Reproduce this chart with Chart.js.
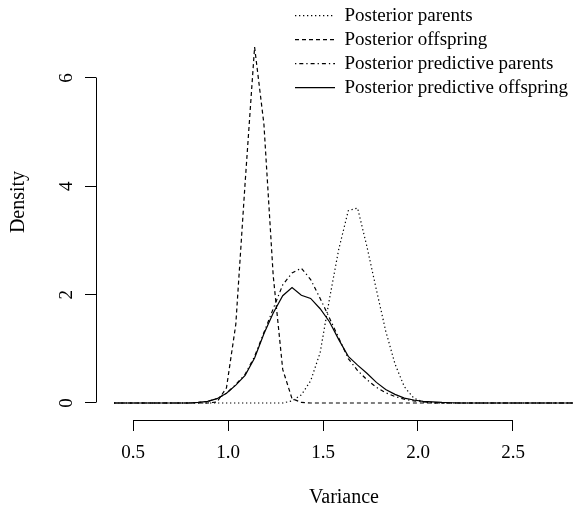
<!DOCTYPE html>
<html><head><meta charset="utf-8">
<script src="https://cdn.jsdelivr.net/npm/chart.js@4.4.1/dist/chart.umd.min.js"></script>
<style>html,body{margin:0;padding:0;background:#fff;overflow:hidden}canvas{display:block}</style>
</head><body>
<canvas id="c" width="582" height="507"></canvas>
<script>
// x grid (variance)
const variance = [0.400,0.449,0.499,0.548,0.597,0.647,0.696,0.745,0.794,0.844,
  0.893,0.942,0.992,1.041,1.090,1.140,1.189,1.238,1.288,1.337,
  1.386,1.435,1.485,1.534,1.583,1.633,1.682,1.731,1.781,1.830,
  1.879,1.928,1.978,2.027,2.076,2.126,2.175,2.224,2.273,2.323,
  2.372,2.421,2.471,2.520,2.569,2.619,2.668,2.717,2.767,2.816];

const posteriorParents = [0,0,0,0,0,0,0,0,0,0, 0,0,0,0,0,0,0,0,0,0.04,
  0.15,0.41,0.93,1.92,2.84,3.55,3.60,2.89,2.09,1.33,
  0.72,0.30,0.09,0.02,0,0,0,0,0,0, 0,0,0,0,0,0,0,0,0,0];

const posteriorOffspring = [0,0,0,0,0,0,0,0,0,0, 0,0.02,0.28,1.45,4.06,6.57,5.15,2.35,0.62,0.08,
  0.01,0,0,0,0,0,0,0,0,0, 0,0,0,0,0,0,0,0,0,0, 0,0,0,0,0,0,0,0,0,0];

const predictiveParents = [0,0,0,0,0,0,0,0,0,0.01, 0.03,0.08,0.18,0.34,0.53,0.86,1.30,1.74,2.18,2.40,
  2.49,2.28,1.93,1.57,1.20,0.82,0.60,0.43,0.29,0.19,
  0.12,0.07,0.04,0.02,0.01,0,0,0,0,0, 0,0,0,0,0,0,0,0,0,0];

const predictiveOffspring = [0,0,0,0,0,0,0,0,0,0.01, 0.03,0.08,0.18,0.33,0.51,0.83,1.28,1.66,1.98,2.13,
  1.99,1.93,1.74,1.50,1.17,0.86,0.70,0.55,0.38,0.25,
  0.16,0.09,0.055,0.03,0.02,0.01,0.005,0,0,0, 0,0,0,0,0,0,0,0,0,0];

const seriesNames = ["Posterior parents","Posterior offspring","Posterior predictive parents","Posterior predictive offspring"];
const xTicks = [0.5, 1.0, 1.5, 2.0, 2.5];
const yTicks = [0, 2, 4, 6];
const xTitle = "Variance";
const yTitle = "Density";

const seriesValues = [posteriorParents, posteriorOffspring, predictiveParents, predictiveOffspring];
const dashes = [[1.3,2.7],[4,3],[1.3,3,4,3],[]];

Chart.defaults.font.family = "'Liberation Serif', 'Times New Roman', serif";
Chart.defaults.color = '#000';

function align(px){ return Math.round(px - 0.5) + 0.5; }

const rAxes = {
  id: 'rAxes',
  afterLayout(chart) {
    const lg = chart.legend;
    lg.left = 290; lg.top = 1.2; lg.right = 582; lg.bottom = 140;
    lg.width = lg.right - lg.left; lg.height = lg.bottom - lg.top;
    chart.scales.y.top = -16;
    chart.scales.x.right = 592;
  },
  afterDraw(chart) {
    const {ctx, scales:{x, y}, chartArea} = chart;
    ctx.save();
    ctx.strokeStyle = '#000'; ctx.lineWidth = 1; ctx.setLineDash([]);
    const yb = align(chartArea.bottom);
    ctx.beginPath();
    ctx.moveTo(align(x.getPixelForValue(xTicks[0])), yb);
    ctx.lineTo(align(x.getPixelForValue(xTicks[xTicks.length-1])), yb);
    const xl = align(chartArea.left);
    ctx.moveTo(xl, align(y.getPixelForValue(yTicks[0])));
    ctx.lineTo(xl, align(y.getPixelForValue(yTicks[yTicks.length-1])));
    ctx.stroke();
    ctx.restore();
  }
};

const datasets = seriesNames.map((name, i) => ({
  label: name,
  data: variance.map((v, j) => ({x: v, y: seriesValues[i][j]})),
  borderColor: '#000',
  borderWidth: 1.2,
  borderDash: dashes[i],
  pointRadius: 0,
  pointHoverRadius: 0,
  fill: false,
  tension: 0
}));

new Chart(document.getElementById('c'), {
  type: 'line',
  data: { datasets },
  plugins: [rAxes],
  options: {
    responsive: false,
    animation: false,
    devicePixelRatio: 1,
    layout: { padding: 0 },
    plugins: {
      tooltip: { enabled: false },
      legend: {
        position: 'chartArea',
        align: 'start',
        labels: {
          usePointStyle: true,
          pointStyleWidth: 40,
          padding: 5,
          color: '#000',
          font: { size: 19 },
          generateLabels: (chart) => chart.data.datasets.map((ds, i) => ({
            text: ds.label, fillStyle: 'rgba(0,0,0,0)', strokeStyle: '#000',
            lineWidth: 1.2, lineDash: ds.borderDash, lineCap: 'butt', pointStyle: 'line',
            rotation: 0, hidden: false, datasetIndex: i, fontColor: '#000'
          }))
        }
      }
    },
    scales: {
      x: {
        type: 'linear',
        min: 0.305263, max: 2.863158,
        border: { display: false },
        grid: { drawOnChartArea: false, drawTicks: true, tickLength: 11, color: '#000', lineWidth: 1 },
        ticks: { padding: 11, font: { size: 19 }, color: '#000', autoSkip: false, maxRotation: 0,
                 callback: (v) => Number(v).toFixed(1) },
        afterBuildTicks: (s) => { s.ticks = xTicks.map(v => ({value: v})); },
        afterFit: (s) => { s.height = 87; s.paddingLeft = 0; s.paddingRight = 0; },
        title: { display: true, text: xTitle, color: '#000', font: { size: 20, lineHeight: 0.9 }, padding: { top: 0, bottom: 0 } }
      },
      y: {
        type: 'linear',
        min: -0.31385, max: 7.44,
        border: { display: false },
        grid: { drawOnChartArea: false, drawTicks: true, tickLength: 11, color: '#000', lineWidth: 1 },
        ticks: { padding: 13, font: { size: 19 }, color: '#000', autoSkip: false,
                 minRotation: 90, maxRotation: 90, crossAlign: 'center',
                 callback: (v) => String(v) },
        afterBuildTicks: (s) => { s.ticks = yTicks.map(v => ({value: v})); },
        afterFit: (s) => { s.width = 96; s.paddingTop = 0; s.paddingBottom = 0; },
        title: { display: true, text: yTitle, color: '#000', font: { size: 20, lineHeight: 1.2 }, padding: { top: 7, bottom: 0 } }
      }
    }
  }
});
</script>
</body></html>
